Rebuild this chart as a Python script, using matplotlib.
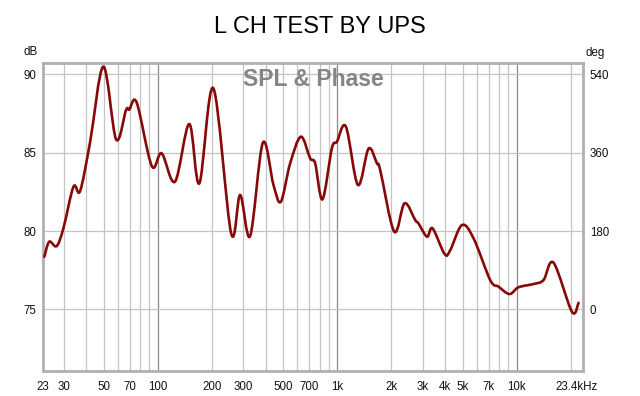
import numpy as np
import matplotlib
matplotlib.use("Agg")
import matplotlib.pyplot as plt
from matplotlib.path import Path
from matplotlib.patches import PathPatch
from matplotlib.transforms import ScaledTranslation

plt.rcParams['font.family'] = ['Liberation Sans', 'DejaVu Sans']

# ---- data ----
freq_hz = [23.4, 24.9, 27.4, 29.9, 34.0, 37.0, 42.0, 49.9, 58.7, 66.7, 69.6, 76.5,
           92.8, 105.3, 125.0, 150.1, 170.8, 204.4, 256.8, 288.2, 327.6, 385.6,
           441.9, 485.8, 547.4, 628.2, 707.3, 754.3, 828.2, 934.4, 997.0, 1119,
           1305, 1496, 1665, 1737, 2079, 2374, 2721, 2839, 3166, 3400, 3968, 4268,
           4959, 5753, 7121, 7920, 9118, 10230, 12398, 14105, 16035, 20300, 22090]
spl_db = [78.36, 79.32, 79.04, 80.19, 82.83, 82.55, 85.62, 90.49, 85.85, 87.72, 87.75, 88.19,
          84.15, 84.96, 83.15, 86.83, 83.04, 89.11, 79.85, 82.30, 79.68, 85.63,
          82.94, 81.87, 84.32, 86.02, 84.64, 84.32, 82.02, 85.28, 85.70, 86.66,
          82.94, 85.26, 84.32, 83.89, 79.96, 81.77, 80.70, 80.48, 79.64, 80.17, 78.53, 78.79,
          80.38, 79.53, 76.87, 76.45, 75.98, 76.41, 76.62, 76.87, 77.98, 74.85, 75.42]

xtick_vals = [23, 30, 50, 70, 100, 200, 300, 500, 700, 1000, 2000, 3000, 4000, 5000,
              7000, 10000, 23400]
xtick_labels = ['23', '30', '50', '70', '100', '200', '300', '500', '700', '1k', '2k',
                '3k', '4k', '5k', '7k', '10k', '23.4kHz']
ytick_vals = [75, 80, 85, 90]
deg_ticks = [0, 180, 360, 540]

minor_grid = [30, 40, 50, 60, 70, 80, 90, 200, 300, 400, 500, 600, 700, 800, 900,
              2000, 3000, 4000, 5000, 6000, 7000, 8000, 9000, 20000]
major_grid = [100, 1000, 10000]

title = "L CH TEST BY UPS"
subtitle = "SPL & Phase"

# ---- figure ----
fig = plt.figure(figsize=(6.4, 3.96), dpi=100)
ax = fig.add_axes([43/640, 25/396, 540/640, 308/396])
ax.set_xscale('log')
xmin, xmax = 23, 23400
ymin, ymax = 71.07, 90.72
ax.set_xlim(xmin, xmax)
ax.set_ylim(ymin, ymax)

for g in minor_grid:
    ax.axvline(g, color='#c4c4c4', lw=0.9, zorder=1)
for g in major_grid:
    ax.axvline(g, color='#8a8a8a', lw=0.9, zorder=1)
for g in ytick_vals:
    ax.axhline(g, color='#c4c4c4', lw=0.9, zorder=1)

# smooth curve (Catmull-Rom rendered as cubic Bezier through the read points)
lx = np.log10(np.array(freq_hz))
ly = np.array(spl_db)
P = np.column_stack([lx, ly])
Pe = np.vstack([P[0], P, P[-1]])
verts = [P[0]]
codes = [Path.MOVETO]
for i in range(len(P) - 1):
    p0, p1, p2, p3 = Pe[i], Pe[i+1], Pe[i+2], Pe[i+3]
    c1 = p1 + (p2 - p0) / 6.0
    c2 = p2 - (p3 - p1) / 6.0
    verts += [c1, c2, p2]
    codes += [Path.CURVE4] * 3
verts = np.array(verts)
verts[:, 0] = 10 ** verts[:, 0]
patch = PathPatch(Path(verts, codes), facecolor='none', edgecolor='#880808',
                  lw=1.9, zorder=3, transform=ax.transData, capstyle='round',
                  joinstyle='round')
ax.add_patch(patch)

ax.set_xticks(xtick_vals)
ax.set_xticklabels(xtick_labels)
ax.xaxis.set_minor_locator(matplotlib.ticker.NullLocator())
ax.set_yticks(ytick_vals)
ax.set_yticklabels([str(v) for v in ytick_vals])
ax.tick_params(axis='both', length=0, labelsize=8.3, colors='#111111')
ax.tick_params(axis='x', pad=7)
ax.tick_params(axis='y', pad=5)
lab = ax.get_xticklabels()[-1]
lab.set_transform(lab.get_transform() + ScaledTranslation(-6/100, 0, fig.dpi_scale_trans))

for s in ax.spines.values():
    s.set_color('#b0b0b0')
    s.set_linewidth(2)

ax2 = ax.twinx()
ax2.set_ylim((ymin - 75) * 36, (ymax - 75) * 36)
ax2.set_yticks(deg_ticks)
ax2.set_yticklabels([str(v) for v in deg_ticks])
ax2.tick_params(axis='y', length=0, labelsize=8.3, colors='#111111', pad=5)
for s in ax2.spines.values():
    s.set_visible(False)

fig.text(38/640, 1 - 52/396, 'dB', ha='right', va='center', fontsize=8.3, color='#111111')
fig.text(585/640, 1 - 53/396, 'deg', ha='left', va='center', fontsize=8.3, color='#111111')
fig.text(320/640, 1 - 27/396, title, ha='center', va='center', fontsize=17, color='black')
fig.text(313/640, 1 - 79/396, subtitle, ha='center', va='center', fontsize=16.5,
         fontweight='bold', color='#858585')

fig.savefig('out.png', dpi=100)
